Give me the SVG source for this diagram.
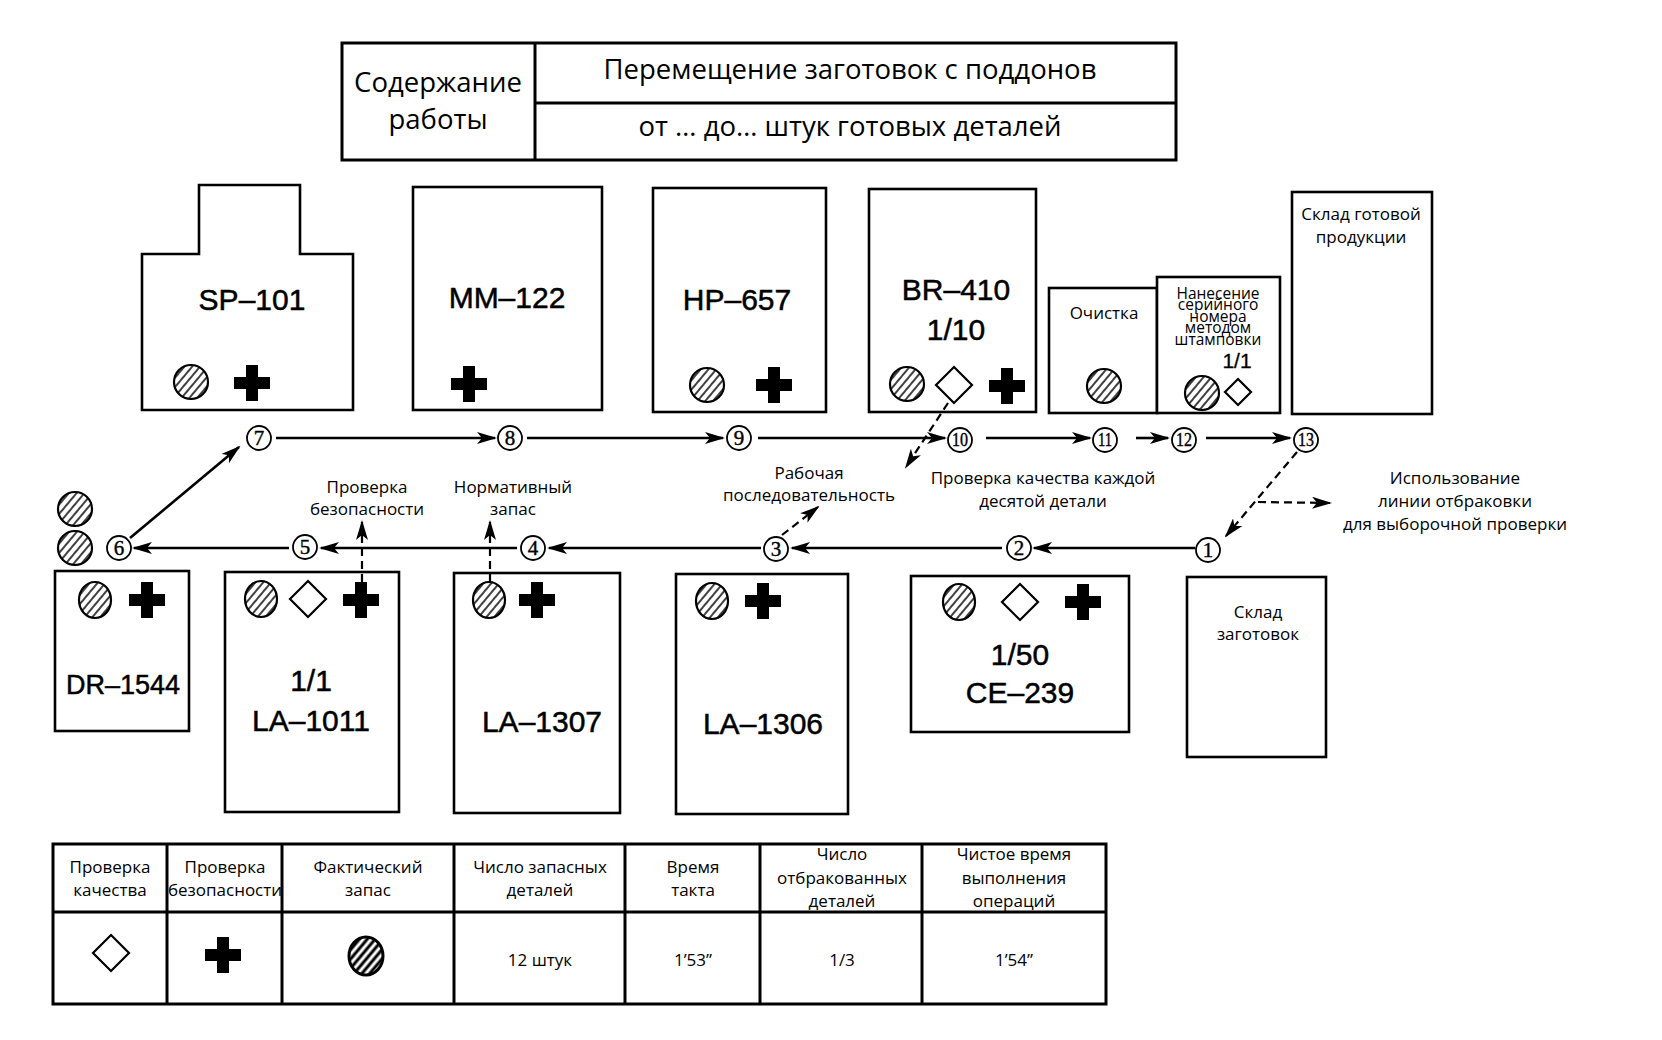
<svg xmlns="http://www.w3.org/2000/svg" width="1662" height="1040" viewBox="0 0 1662 1040">
<style>
.box{fill:#fff;stroke:#000;stroke-width:2.6}
.tbl{fill:none;stroke:#000;stroke-width:3}
.lbl{font-family:"Liberation Sans",Arial,sans-serif;font-size:30px;text-anchor:middle;fill:#000;stroke:#000;stroke-width:0.5}
.ru{font-family:"Open Sans","Noto Sans",sans-serif;font-size:17px;text-anchor:middle;fill:#000}
.st{font-family:"Open Sans","Noto Sans",sans-serif;font-size:15.5px;text-anchor:middle;fill:#000}
.hd{font-family:"Open Sans","Noto Sans",sans-serif;font-size:27.5px;text-anchor:middle;fill:#000}
.num{font-family:"Liberation Serif","Times New Roman",serif;font-size:21px;text-anchor:middle;fill:#000;stroke:#000;stroke-width:0.4}
.num2{font-family:"Liberation Serif","Times New Roman",serif;font-size:18px;text-anchor:middle;fill:#000;stroke:#000;stroke-width:0.4}
.nc{fill:#fff;stroke:#000;stroke-width:1.8}
.flow{stroke:#000;stroke-width:2.6;fill:none;marker-end:url(#ah)}
.dash{stroke:#000;stroke-width:2.2;stroke-dasharray:8 5;fill:none;marker-end:url(#ah)}
.hc{fill:url(#hatch);stroke:#000;stroke-width:2.2}
.dm{fill:#fff;stroke:#000;stroke-width:2.2}
</style>
<defs>
<pattern id="hatch" patternUnits="userSpaceOnUse" width="6" height="6" patternTransform="rotate(-50)">
<rect width="6" height="6" fill="#fff"/>
<line x1="0" y1="3" x2="6" y2="3" stroke="#000" stroke-width="1.5"/>
</pattern>
<pattern id="hatch2" patternUnits="userSpaceOnUse" width="6" height="6" patternTransform="rotate(-50)">
<rect width="6" height="6" fill="#fff"/>
<line x1="0" y1="3" x2="6" y2="3" stroke="#000" stroke-width="3"/>
</pattern>
<marker id="ah" markerUnits="userSpaceOnUse" viewBox="0 0 20 12" markerWidth="20" markerHeight="12" refX="18" refY="6" orient="auto">
<path d="M0,0 L20,6 L0,12 L5,6 Z" fill="#000"/>
</marker>
<path id="cross" d="M-6,-18 h12 v12 h12 v12 h-12 v12 h-12 v-12 h-12 v-12 h12 Z" fill="#000"/>
<path id="diam" d="M0,-18 L18,0 L0,18 L-18,0 Z" class="dm"/>
<circle id="hcirc" r="17" class="hc"/>
<ellipse id="hell" rx="16" ry="18" class="hc"/>
</defs>
<rect width="1662" height="1040" fill="#fff"/>

<g id="header">
<rect x="342" y="43" width="834" height="117" class="tbl"/>
<line x1="535" y1="43" x2="535" y2="160" class="tbl"/>
<line x1="535" y1="103" x2="1176" y2="103" class="tbl"/>
<text x="438" y="92" class="hd">Содержание</text>
<text x="438" y="129" class="hd">работы</text>
<text x="850" y="79" class="hd">Перемещение заготовок с поддонов</text>
<text x="850" y="136" class="hd">от … до… штук готовых деталей</text>
</g>

<g id="SP-101">
<path d="M142,410 V254 H199 V185 H300 V254 H353 V410 Z" class="box"/>
<text x="252" y="310" class="lbl">SP–101</text>
<use href="#hcirc" x="191" y="382"/>
<use href="#cross" x="252" y="383"/>
</g>
<g id="MM-122">
<rect x="413" y="187" width="189" height="223" class="box"/>
<text x="507" y="308" class="lbl">MM–122</text>
<use href="#cross" x="469" y="384"/>
</g>
<g id="HP-657">
<rect x="653" y="188" width="173" height="224" class="box"/>
<text x="737" y="310" class="lbl">HP–657</text>
<use href="#hcirc" x="707" y="385"/>
<use href="#cross" x="774" y="385"/>
</g>
<g id="BR-410">
<rect x="869" y="189" width="167" height="223" class="box"/>
<text x="956" y="300" class="lbl">BR–410</text>
<text x="956" y="340" class="lbl">1/10</text>
<use href="#hcirc" x="907" y="384"/>
<use href="#diam" x="954" y="385"/>
<use href="#cross" x="1007" y="386"/>
</g>
<g id="cleaning">
<rect x="1049" y="288" width="108" height="125" class="box"/>
<text x="1104" y="319" class="ru">Очистка</text>
<use href="#hcirc" x="1104" y="386"/>
</g>
<g id="stamping">
<rect x="1157" y="277" width="123" height="136" class="box"/>
<text x="1218" y="299" class="st">Нанесение</text>
<text x="1218" y="310" class="st">серийного</text>
<text x="1218" y="322" class="st">номера</text>
<text x="1218" y="333" class="st">методом</text>
<text x="1218" y="345" class="st">штамповки</text>
<text x="1237" y="368" class="lbl" style="font-size:21px;stroke-width:0.3">1/1</text>
<use href="#hcirc" x="1202" y="393"/>
<path d="M1238,379 L1251,392 L1238,405 L1225,392 Z" class="dm"/>
</g>
<g id="finished-store">
<rect x="1292" y="192" width="140" height="222" class="box"/>
<text x="1361" y="220" class="ru">Склад готовой</text>
<text x="1361" y="243" class="ru">продукции</text>
</g>

<g id="DR-1544">
<rect x="55" y="571" width="134" height="160" class="box"/>
<use href="#hell" x="95" y="600"/>
<use href="#cross" x="147" y="600"/>
<text x="123" y="694" class="lbl" style="font-size:27px">DR–1544</text>
</g>
<g id="LA-1011">
<rect x="225" y="572" width="174" height="240" class="box"/>
<use href="#hell" x="261" y="599"/>
<use href="#diam" x="308" y="599"/>
<use href="#cross" x="361" y="600"/>
<text x="311" y="691" class="lbl">1/1</text>
<text x="311" y="731" class="lbl">LA–1011</text>
</g>
<g id="LA-1307">
<rect x="454" y="573" width="166" height="240" class="box"/>
<use href="#hell" x="489" y="600"/>
<use href="#cross" x="537" y="600"/>
<text x="542" y="732" class="lbl">LA–1307</text>
</g>
<g id="LA-1306">
<rect x="676" y="574" width="172" height="240" class="box"/>
<use href="#hell" x="712" y="601"/>
<use href="#cross" x="763" y="601"/>
<text x="763" y="734" class="lbl">LA–1306</text>
</g>
<g id="CE-239">
<rect x="911" y="576" width="218" height="156" class="box"/>
<use href="#hell" x="959" y="602"/>
<use href="#diam" x="1020" y="602"/>
<use href="#cross" x="1083" y="602"/>
<text x="1020" y="665" class="lbl">1/50</text>
<text x="1020" y="703" class="lbl">CE–239</text>
</g>
<g id="blank-store">
<rect x="1187" y="577" width="139" height="180" class="box"/>
<text x="1258" y="618" class="ru">Склад</text>
<text x="1258" y="640" class="ru">заготовок</text>
</g>

<g id="buffer">
<use href="#hcirc" x="75" y="509"/>
<use href="#hcirc" x="75" y="548"/>
</g>

<g id="connectors">
<line x1="276" y1="438" x2="495" y2="438" class="flow"/>
<line x1="527" y1="438" x2="723" y2="438" class="flow"/>
<line x1="758" y1="438" x2="945" y2="438" class="flow"/>
<line x1="986" y1="438" x2="1090" y2="438" class="flow"/>
<line x1="1136" y1="438" x2="1168" y2="438" class="flow"/>
<line x1="1206" y1="438" x2="1290" y2="438" class="flow"/>
<line x1="130" y1="538" x2="239" y2="447" class="flow"/>
<line x1="1195" y1="548" x2="1034" y2="548" class="flow"/>
<line x1="1002" y1="548" x2="792" y2="548" class="flow"/>
<line x1="761" y1="548" x2="549" y2="548" class="flow"/>
<line x1="517" y1="548" x2="321" y2="548" class="flow"/>
<line x1="289" y1="548" x2="134" y2="548" class="flow"/>
<line x1="1297" y1="452" x2="1226" y2="536" class="dash"/>
<line x1="1258" y1="502" x2="1330" y2="503" class="dash"/>
<line x1="948" y1="403" x2="906" y2="467" class="dash"/>
<line x1="782" y1="535" x2="818" y2="507" class="dash"/>
<line x1="362" y1="582" x2="362" y2="522" class="dash"/>
<line x1="490" y1="582" x2="490" y2="522" class="dash"/>
</g>

<g id="steps">
<g id="s1"><circle cx="1208" cy="550" r="12" class="nc"/><text x="1208" y="557" class="num">1</text></g>
<g id="s2"><circle cx="1019" cy="548" r="12" class="nc"/><text x="1019" y="555" class="num">2</text></g>
<g id="s3"><circle cx="776" cy="549" r="12" class="nc"/><text x="776" y="556" class="num">3</text></g>
<g id="s4"><circle cx="533" cy="548" r="12" class="nc"/><text x="533" y="555" class="num">4</text></g>
<g id="s5"><circle cx="305" cy="547" r="12" class="nc"/><text x="305" y="554" class="num">5</text></g>
<g id="s6"><circle cx="119" cy="548" r="12" class="nc"/><text x="119" y="555" class="num">6</text></g>
<g id="s7"><circle cx="259" cy="438" r="12" class="nc"/><text x="259" y="445" class="num">7</text></g>
<g id="s8"><circle cx="510" cy="438" r="12" class="nc"/><text x="510" y="445" class="num">8</text></g>
<g id="s9"><circle cx="739" cy="438" r="12" class="nc"/><text x="739" y="445" class="num">9</text></g>
<g id="s10"><circle cx="960" cy="440" r="12" class="nc"/><text x="960" y="446" class="num2" textLength="16" lengthAdjust="spacingAndGlyphs">10</text></g>
<g id="s11"><circle cx="1105" cy="440" r="12" class="nc"/><text x="1105" y="446" class="num2" textLength="14" lengthAdjust="spacingAndGlyphs">11</text></g>
<g id="s12"><circle cx="1184" cy="440" r="12" class="nc"/><text x="1184" y="446" class="num2" textLength="16" lengthAdjust="spacingAndGlyphs">12</text></g>
<g id="s13"><circle cx="1306" cy="440" r="12" class="nc"/><text x="1306" y="446" class="num2" textLength="16" lengthAdjust="spacingAndGlyphs">13</text></g>
</g>

<g id="labels">
<text x="367" y="493" class="ru">Проверка</text>
<text x="367" y="515" class="ru">безопасности</text>
<text x="513" y="493" class="ru">Нормативный</text>
<text x="513" y="515" class="ru">запас</text>
<text x="809" y="479" class="ru">Рабочая</text>
<text x="809" y="501" class="ru">последовательность</text>
<text x="1043" y="484" class="ru">Проверка качества каждой</text>
<text x="1043" y="507" class="ru">десятой детали</text>
<text x="1455" y="484" class="ru">Использование</text>
<text x="1455" y="507" class="ru">линии отбраковки</text>
<text x="1455" y="530" class="ru">для выборочной проверки</text>
</g>

<g id="legend">
<rect x="53" y="844" width="1053" height="160" class="tbl"/>
<line x1="53" y1="912" x2="1106" y2="912" class="tbl"/>
<line x1="167" y1="844" x2="167" y2="1004" class="tbl"/>
<line x1="282" y1="844" x2="282" y2="1004" class="tbl"/>
<line x1="454" y1="844" x2="454" y2="1004" class="tbl"/>
<line x1="625" y1="844" x2="625" y2="1004" class="tbl"/>
<line x1="760" y1="844" x2="760" y2="1004" class="tbl"/>
<line x1="922" y1="844" x2="922" y2="1004" class="tbl"/>
<text x="110" y="873" class="ru">Проверка</text>
<text x="110" y="896" class="ru">качества</text>
<text x="225" y="873" class="ru">Проверка</text>
<text x="225" y="896" class="ru">безопасности</text>
<text x="368" y="873" class="ru">Фактический</text>
<text x="368" y="896" class="ru">запас</text>
<text x="540" y="873" class="ru">Число запасных</text>
<text x="540" y="896" class="ru">деталей</text>
<text x="693" y="873" class="ru">Время</text>
<text x="693" y="896" class="ru">такта</text>
<text x="842" y="860" class="ru">Число</text>
<text x="842" y="884" class="ru">отбракованных</text>
<text x="842" y="907" class="ru">деталей</text>
<text x="1014" y="860" class="ru">Чистое время</text>
<text x="1014" y="884" class="ru">выполнения</text>
<text x="1014" y="907" class="ru">операций</text>
<use href="#diam" x="111" y="953"/>
<use href="#cross" x="223" y="955"/>
<ellipse cx="366" cy="956" rx="17" ry="19" fill="url(#hatch2)" stroke="#000" stroke-width="3"/>
<text x="540" y="966" class="ru">12 штук</text>
<text x="693" y="966" class="ru">1’53”</text>
<text x="842" y="966" class="ru">1/3</text>
<text x="1014" y="966" class="ru">1’54”</text>
</g>
</svg>
